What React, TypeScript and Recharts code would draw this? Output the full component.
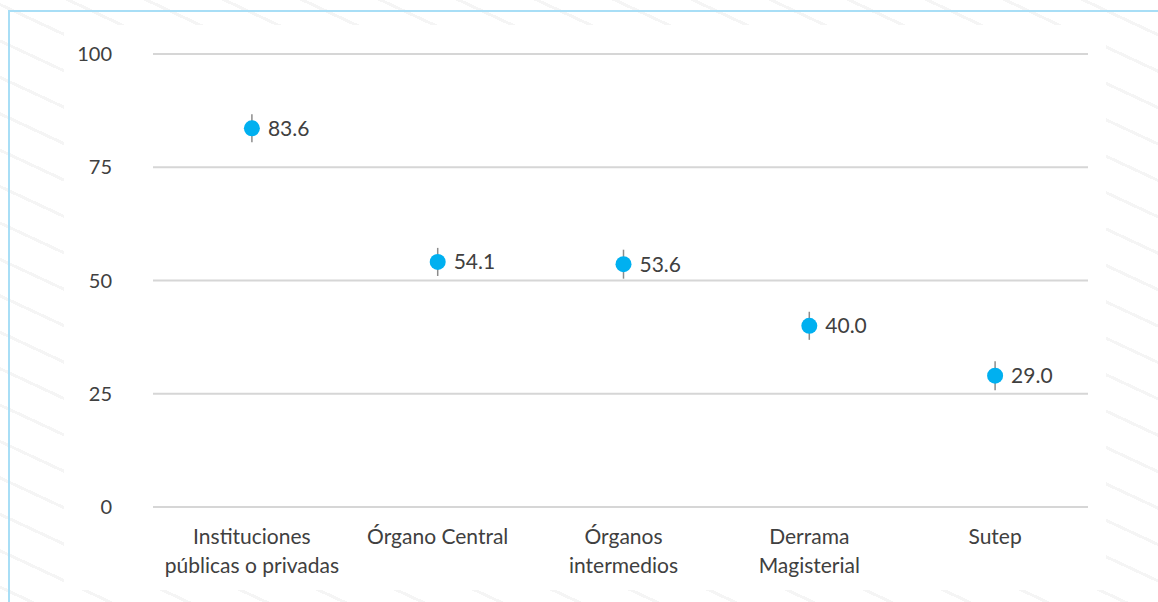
import { ComposedChart, Line, XAxis, YAxis, CartesianGrid, ErrorBar, LabelList } from 'recharts';

const categories = [
  'Instituciones\npúblicas o privadas',
  'Órgano Central',
  'Órganos\nintermedios',
  'Derrama\nMagisterial',
  'Sutep',
];
const values = [83.6, 54.1, 53.6, 40.0, 29.0];
const errors = [3.1, 3.1, 3.2, 3.1, 3.2];
const yTicks = [0, 25, 50, 75, 100];

const data = categories.map((name, i) => ({ name, value: values[i], err: errors[i] }));

const FONT = 'Lato, "Open Sans", sans-serif';
const TEXT = '#404040';

const CategoryTick = ({ x, y, payload }: any) => {
  const lines = String(payload.value).split('\n');
  return (
    <text x={x} y={y} textAnchor="middle" fill={TEXT} fontSize={21} fontFamily={FONT}>
      {lines.map((line, i) => (
        <tspan key={i} x={x} dy={i === 0 ? 29 : 29}>
          {line}
        </tspan>
      ))}
    </text>
  );
};

export default function App() {
  return (
    <div style={{ position: 'absolute', left: 0, top: 0, width: 1158, height: 602, overflow: 'hidden', background: '#fff' }}>
      {/* faint diagonal stripes behind the card */}
      <div
        style={{
          position: 'absolute',
          inset: 0,
          background:
            'repeating-linear-gradient(205deg, #ffffff 0px, #ffffff 30px, #f5f5f5 30px, #f5f5f5 33px)',
        }}
      />
      <div
        style={{
          position: 'absolute',
          left: 8,
          top: 10,
          width: 1300,
          height: 800,
          borderLeft: '2px solid #a8def6',
          borderTop: '2px solid #a8def6',
        }}
      />
      <div style={{ position: 'absolute', left: 64, top: 25, width: 1042, height: 565, background: '#fff' }} />
      <div style={{ position: 'absolute', left: 0, top: 0 }}>
        <ComposedChart
          width={1158}
          height={602}
          data={data}
          margin={{ top: 54, right: 70, bottom: 0, left: 93 }}
        >
          <CartesianGrid vertical={false} stroke="#d6d6d6" strokeWidth={2} />
          <XAxis
            dataKey="name"
            scale="band"
            axisLine={false}
            tickLine={false}
            interval={0}
            height={95}
            padding={{ left: 6, right: 0 }}
            tick={<CategoryTick />}
          />
          <YAxis
            domain={[0, 100]}
            ticks={yTicks}
            axisLine={false}
            tickLine={false}
            width={60}
            tickMargin={35}
            tick={{ fontSize: 20, fill: TEXT, fontFamily: FONT }}
          />
          <Line
            dataKey="value"
            stroke="none"
            isAnimationActive={false}
            dot={{ r: 8, fill: '#00b0f0', stroke: 'none', strokeWidth: 0 }}
            activeDot={false}
          >
            <ErrorBar dataKey="err" direction="y" width={0} stroke="#8c8c8c" strokeWidth={1.5} />
            <LabelList
              dataKey="value"
              position="right"
              offset={16}
              formatter={(v: any) => Number(v).toFixed(1)}
              style={{ fontSize: 21, fill: TEXT, fontFamily: FONT }}
            />
          </Line>
        </ComposedChart>
      </div>
    </div>
  );
}
